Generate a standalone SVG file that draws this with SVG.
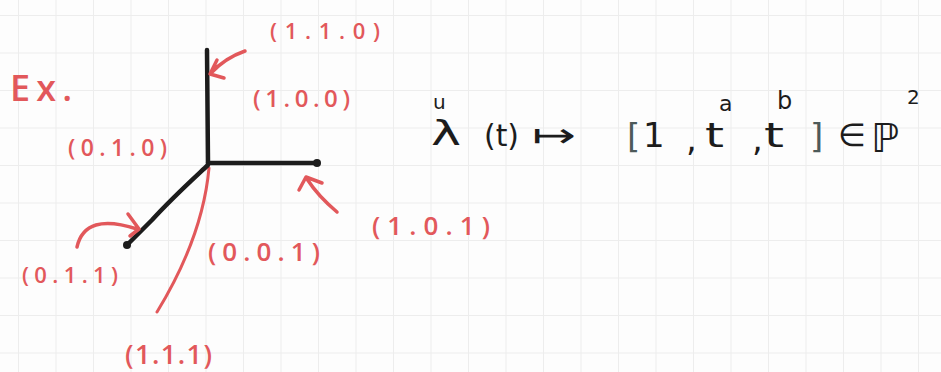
<svg xmlns="http://www.w3.org/2000/svg" width="941" height="372" viewBox="0 0 941 372">
<defs>
<pattern id="grid" x="18" y="15" width="37.5" height="37.5" patternUnits="userSpaceOnUse">
<path d="M0,0 V37.5 M0,0 H37.5" fill="none" stroke="#ededed" stroke-width="2"/>
</pattern>
</defs>
<style>
.ink{fill:none;stroke:#1c1c1c;stroke-width:4.5;stroke-linecap:round;stroke-linejoin:round}
.red{fill:none;stroke:#e2585b;stroke-linecap:round;stroke-linejoin:round}
.lbl{font-family:"Open Sans","DejaVu Sans",sans-serif;font-weight:600;fill:#e2585b}
.fx{font-family:"DejaVu Sans","Open Sans",sans-serif;fill:#1c1c1c}
.br{fill:#4d5a5a}
</style>
<rect width="941" height="372" fill="#fdfdfd"/>
<rect width="941" height="372" fill="url(#grid)"/>

<g id="curve">
<path class="red" stroke-width="3" d="M209,168 C205,212 190,258 157,312"/>
<path class="ink" d="M207,50 L208,163"/>
<path class="ink" d="M208,163 L317,163"/>
<path class="ink" d="M208,165 C192,180 172,198 152,220 L127,245"/>
<circle cx="317" cy="163" r="4" fill="#1c1c1c"/>
<circle cx="127" cy="245" r="4" fill="#1c1c1c"/>
</g>

<g id="connectors">
<path class="red" stroke-width="3.5" d="M245,51 Q225,58 211,73 M217,60 L210,74 L224,78"/>
<path class="red" stroke-width="3.5" d="M337,212 Q318,196 307,179 M299,190 L306,177 L322,183"/>
<path class="red" stroke-width="3.5" d="M77,247 Q85,212 137,229 M128,214 L139,229 L130,236"/>
</g>

<g id="labels">
<text class="lbl" x="10" y="101" font-size="36" textLength="62" lengthAdjust="spacing">Ex.</text>
<text class="lbl" x="270" y="39" font-size="22" textLength="110" lengthAdjust="spacing">(1.1.0)</text>
<text class="lbl" x="253" y="107" font-size="24" textLength="97" lengthAdjust="spacing">(1.0.0)</text>
<text class="lbl" x="68" y="156" font-size="23" textLength="99" lengthAdjust="spacing">(0.1.0)</text>
<text class="lbl" x="208" y="261" font-size="26" textLength="112" lengthAdjust="spacing">(0.0.1)</text>
<text class="lbl" x="372" y="235" font-size="26" textLength="118" lengthAdjust="spacing">(1.0.1)</text>
<text class="lbl" x="22" y="283" font-size="22" textLength="96" lengthAdjust="spacing">(0.1.1)</text>
<text class="lbl" x="125" y="364" font-size="27" textLength="87" lengthAdjust="spacing">(1.1.1)</text>
</g>

<g id="formula">
<text class="fx" font-size="34" x="431" y="145" textLength="30" lengthAdjust="spacingAndGlyphs">λ</text>
<text class="fx" font-size="20" x="433" y="109">u</text>
<text class="fx" font-size="30" x="484" y="146" textLength="35" lengthAdjust="spacingAndGlyphs">(t)</text>
<text class="fx" font-size="34" x="532" y="147" textLength="44" lengthAdjust="spacingAndGlyphs">↦</text>
<text class="fx br" font-size="34" x="627" y="148">[</text>
<text class="fx" font-size="34" x="643" y="147">1</text>
<text class="fx" font-size="34" x="686" y="151">,</text>
<text class="fx" font-size="34" x="705" y="147" textLength="19" lengthAdjust="spacingAndGlyphs">t</text>
<text class="fx" font-size="22" x="719" y="111">a</text>
<text class="fx" font-size="34" x="752" y="151">,</text>
<text class="fx" font-size="34" x="764" y="147" textLength="20" lengthAdjust="spacingAndGlyphs">t</text>
<text class="fx" font-size="24" x="777" y="109">b</text>
<text class="fx br" font-size="34" x="810" y="148">]</text>
<text class="fx" font-size="32" x="838" y="146">∈</text>
<text class="fx" font-size="40" x="871" y="152">ℙ</text>
<text class="fx" font-size="20" x="907" y="104">2</text>
</g>
</svg>
